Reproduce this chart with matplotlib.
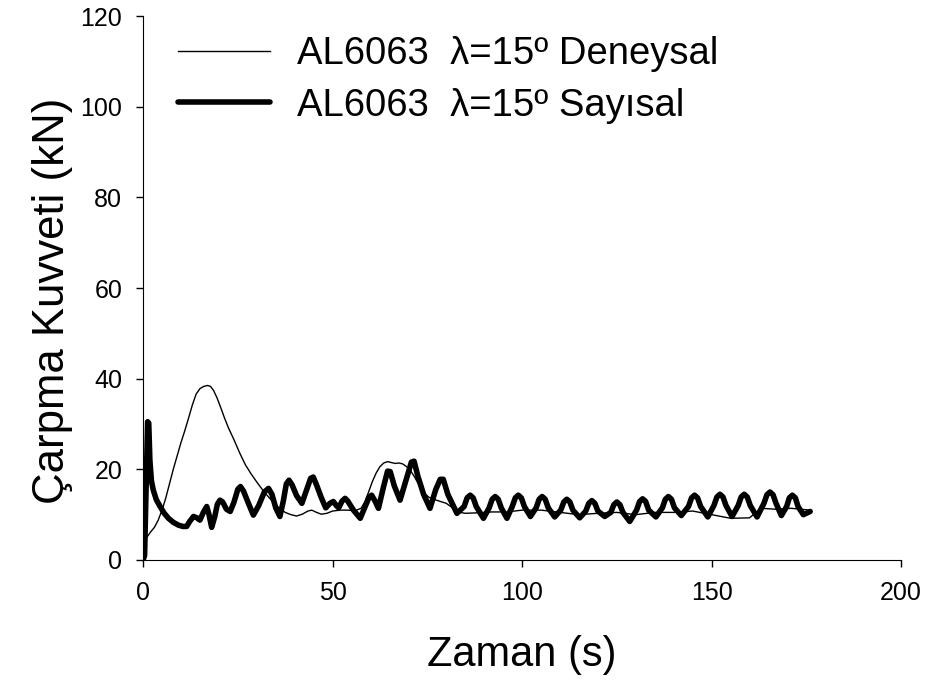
import matplotlib
matplotlib.use("Agg")
from matplotlib import pyplot as plt

plt.rcParams['font.family'] = ['Liberation Sans', 'DejaVu Sans']

t_exp = [0.2, 1, 2, 3, 4, 5, 6, 7, 8, 9, 10, 11, 12, 13, 14, 15, 16, 17, 17.8,
         18.6, 19.5, 20.5, 21.5, 22.5, 24, 25.5, 27, 28.5, 30, 31.5, 33, 34.5, 36,
         37.5, 39, 40.5, 42, 43.5, 44.5, 45.5, 47, 48.5, 50, 52, 54, 56, 57.5, 58.5,
         59.5, 60.5, 61.5, 62.5, 63.5, 64.5, 65.5, 66.5, 67.5, 68.5, 69.5, 70.5,
         71.5, 72.5, 73.5, 74.5, 75.5, 77, 78.5, 80, 81.5, 83, 85, 88, 92, 96, 100,
         105, 110, 115, 120, 125, 130, 135, 140, 145, 150, 155, 160, 163, 167, 171, 176]
f_exp = [2, 5, 6.2, 7.2, 8.8, 11, 13.7, 16.9, 20.1, 23, 25.9, 28.5, 31.3, 34.2,
         36.6, 37.8, 38.3, 38.5, 38.3, 37.4, 35.8, 33.6, 31.3, 29.2, 26.5, 23.6,
         21, 19, 17.2, 15.5, 14, 12.6, 11.4, 10.5, 10, 9.7, 10.1, 10.8, 11, 10.6,
         10.1, 10.3, 10.8, 11, 11, 10.9, 11.4, 12.8, 15, 17.3, 19.2, 20.6, 21.4,
         21.7, 21.5, 21.3, 21.4, 21.2, 20.6, 19.8, 18.5, 17, 15.6, 14.5, 13.8, 13.3,
         12.9, 12.5, 11.6, 10.6, 10.3, 10.4, 10.6, 10.6, 11, 11, 10.5, 10, 10.3,
         10.5, 10, 10.5, 10.5, 10.8, 10, 9.2, 9.3, 11.4, 11.2, 11.4, 11]

# Sayisal (numerical) curve
t_num = [0, 0.4, 0.9, 1.2, 1.5, 1.8, 2.2, 2.7, 3.5, 4.5, 5.5, 6.7, 8, 9.3, 10.5,
         11.5, 12.3, 13.3, 14.2, 15, 15.9, 16.8, 17.4, 18.1, 18.9, 19.6, 20.3, 21,
         22, 23, 24, 25, 25.7, 26.5, 27.8, 29.1, 30.5, 32, 33.1, 34, 35, 36.1, 37,
         37.8, 38.5, 39.3, 40.5, 41.9, 43.2, 44.2, 44.9, 45.8, 47, 48.2, 49.3, 50.2,
         51, 51.6, 52.5, 53.3, 54, 55.5, 57.3, 58.6, 59.6, 60.3, 61.2, 62.1, 63.4,
         64.5, 65.2, 66.3, 67.8, 69.5, 70.8, 71.5, 72.5, 74, 75.7, 77.2, 78.4, 79.2,
         80.4, 82.8,
         84.7, 85.5, 86.3, 87.1, 87.9, 89.8,
         91.3, 92.1, 92.9, 93.7, 94.5, 96.0,
         97.4, 98.2, 99.0, 99.8, 100.6, 102.2,
         103.7, 104.5, 105.3, 106.1, 106.9, 108.6,
         110.2, 111.0, 111.8, 112.6, 113.4, 115.2,
         116.8, 117.6, 118.4, 119.2, 120.0, 121.8,
         123.4, 124.2, 125.0, 125.8, 126.6, 128.4,
         130.2, 131.0, 131.8, 132.6, 133.4, 135.3,
         137.0, 137.8, 138.6, 139.4, 140.2, 142.0,
         143.9, 144.7, 145.5, 146.3, 147.1, 149.0,
         150.6, 151.4, 152.2, 153.0, 153.8, 155.4,
         157.0, 157.8, 158.6, 159.4, 160.2, 162.0,
         163.8, 164.6, 165.4, 166.2, 167.0, 168.4,
         169.8, 170.5, 171.3, 172.1, 172.8, 174.2, 176]
f_num = [0, 1, 20, 30.5, 30.2, 22, 17.5, 15.4, 13.3, 11.8, 10.4, 9.2, 8.3, 7.7,
         7.4, 7.4, 8.5, 9.6, 9.3, 8.8, 10.5, 11.8, 10, 7.2, 9.5, 12.3, 13.2, 12.8,
         11.2, 10.7, 12.8, 15.6, 16.2, 15.2, 12.5, 9.9, 12, 15, 15.8, 14.5, 11.5,
         9.6, 13, 16.8, 17.6, 16.6, 14.2, 12.5, 15.6, 18, 18.3, 16.5, 13.8, 11.5,
         12.5, 12.9, 12, 11.5, 13, 13.6, 13, 11, 9.2, 11.8, 13.8, 14.3, 13, 11.4,
         16, 19.6, 19.5, 16.3, 13.2, 18, 21.6, 21.8, 18.5, 14.5, 11.4, 15.5, 17.8,
         17.8, 14.5, 10.3,
         11.8, 13.7, 14.3, 13.7, 11.8, 9.2,
         11.5, 13.4, 14.0, 13.4, 11.5, 9.2,
         11.8, 13.7, 14.3, 13.7, 11.8, 9.6,
         11.5, 13.4, 14.0, 13.4, 11.5, 9.5,
         11.0, 12.8, 13.4, 12.8, 11.0, 9.3,
         10.8, 12.5, 13.1, 12.5, 10.8, 9.6,
         10.5, 12.2, 12.8, 12.2, 10.5, 8.5,
         11.0, 12.9, 13.5, 12.9, 11.0, 9.5,
         11.5, 13.4, 14.0, 13.4, 11.5, 9.8,
         11.8, 13.7, 14.3, 13.7, 11.8, 9.5,
         12.0, 13.9, 14.5, 13.9, 12.0, 9.6,
         12.0, 13.9, 14.5, 13.9, 12.0, 9.5,
         12.5, 14.4, 15.0, 14.4, 12.5, 9.8,
         11.8, 13.7, 14.3, 13.7, 11.8, 10.0, 10.7]

labels = ["AL6063  \u03bb=15\u00ba Deneysal", "AL6063  \u03bb=15\u00ba Say\u0131sal"]

fig = plt.figure(figsize=(9.29, 6.85), dpi=100)
ax = fig.add_axes([0.154, 0.1825, 0.816, 0.794])

ax.plot(t_exp, f_exp, color='black', lw=1.0, label=labels[0])
ax.plot(t_num, f_num, color='black', lw=4.0, solid_joinstyle='round',
        solid_capstyle='round', label=labels[1])

ax.set_xlim(0, 200)
ax.set_ylim(0, 120)
ax.set_xticks([0, 50, 100, 150, 200])
ax.set_yticks(range(0, 121, 20))
ax.spines['top'].set_visible(False)
ax.spines['right'].set_visible(False)
ax.tick_params(direction='out', length=5, width=1, labelsize=18, pad=10)

ax.set_xlabel("Zaman (s)", fontsize=30, labelpad=22)
ax.set_ylabel("\u00c7arpma Kuvveti (kN)", fontsize=31.5)
ax.yaxis.set_label_coords(-0.092, 0.476)

ax.legend(loc='upper left', bbox_to_anchor=(0.016, 1.005), frameon=False, fontsize=27.5,
          handlelength=2.4, handletextpad=0.7, labelspacing=0.4, borderaxespad=0.2)

fig.savefig("out.png", dpi=100)
